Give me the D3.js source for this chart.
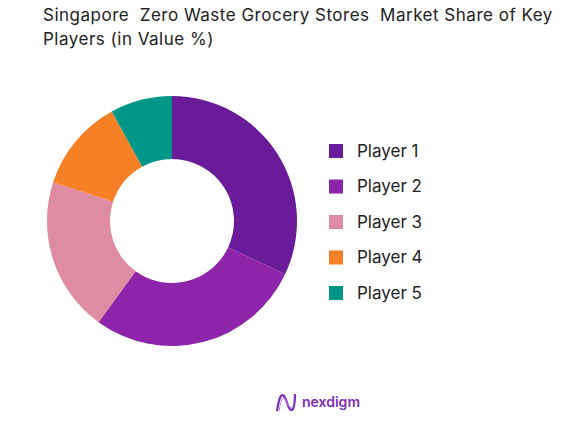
<!DOCTYPE html>
<html><head><meta charset="utf-8">
<script src="https://cdn.jsdelivr.net/npm/d3@7"></script>
<style>
html,body{margin:0;padding:0;background:#fff;}
text{font-family:Inter,"Open Sans",sans-serif;white-space:pre;}
</style></head>
<body>
<svg id="c" width="588" height="422"></svg>
<script>
const titleLines = ["Singapore  Zero Waste Grocery Stores  Market Share of Key", "Players (in Value %)"];
const categories = ["Player 1", "Player 2", "Player 3", "Player 4", "Player 5"];
const values = [32, 28, 20, 12, 8];
const colors = ["#6a1b9a", "#8e24aa", "#de8ba3", "#f58025", "#009688"];

const svg = d3.select("#c");
svg.append("rect").attr("width",588).attr("height",422).attr("fill","#fff");

const title = svg.append("text").attr("x",43).attr("y",21)
  .attr("font-size",17).attr("letter-spacing",0.5).attr("fill","#222");
titleLines.forEach((t,i)=>title.append("tspan").attr("x",43).attr("dy", i===0?0:24).text(t));

const cx = 172, cy = 221, R = 125, r = 62;
const pie = d3.pie().sort(null).value(d=>d);
const arc = d3.arc().innerRadius(r).outerRadius(R);
const color = d3.scaleOrdinal().domain(categories).range(colors);
const g = svg.append("g").attr("transform",`translate(${cx},${cy})`);
g.selectAll("path").data(pie(values)).join("path")
  .attr("d",arc).attr("fill",(d,i)=>color(categories[i]));

const ly = d3.scalePoint().domain(categories).range([151,293]);
const lg = svg.append("g");
categories.forEach(c=>{
  lg.append("rect").attr("x",329).attr("y",ly(c)-7).attr("width",14).attr("height",14).attr("fill",color(c));
  lg.append("text").attr("x",357).attr("y",ly(c)).attr("dy","0.35em")
    .attr("font-size",17).attr("fill","#222").text(c);
});

// logo
const logo = svg.append("g");
logo.append("path")
  .attr("d","M277,411 C279,398 281,393 284,396 C287,400 288,409 291,410 C294,411 295,402 295,394")
  .attr("fill","none").attr("stroke","#7b2fbf").attr("stroke-width",2.2);
logo.append("path")
  .attr("d","M279,411 C281,400 283,396 285,399 C288,404 289,408 292,408")
  .attr("fill","none").attr("stroke","#c08be0").attr("stroke-width",1);
logo.append("text").attr("x",302).attr("y",402).attr("dy","0.35em")
  .attr("font-size",14).attr("font-weight",600).attr("fill","#7b2fbf").text("nexdigm");
</script>
</body></html>
